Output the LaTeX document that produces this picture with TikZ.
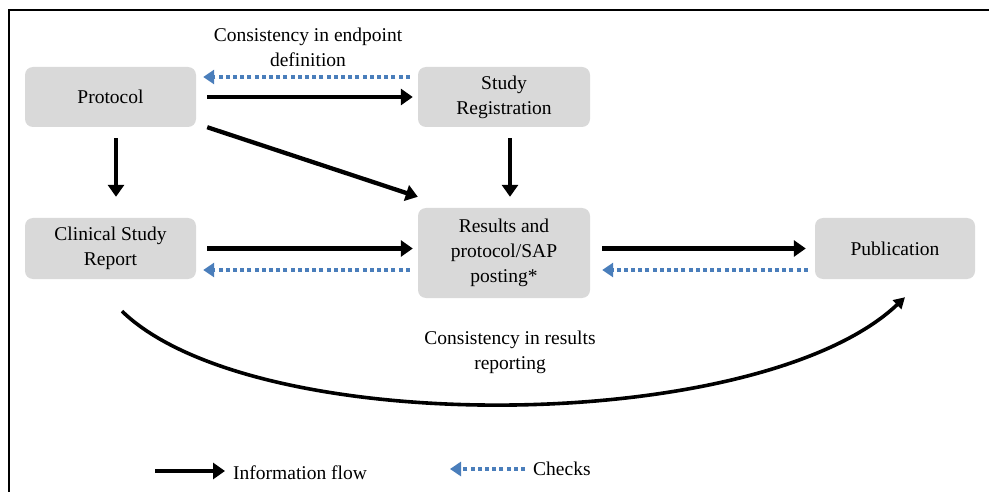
\documentclass[tikz,border=0pt]{standalone}
\usepackage{fontspec}
\setmainfont{Liberation Serif}
\usetikzlibrary{arrows.meta,calc}
\definecolor{boxgray}{HTML}{D9D9D9}
\definecolor{checkblue}{HTML}{4A7EBB}
\tikzset{
  box/.style={draw=none,fill=boxgray,rounded corners=8pt,inner sep=0pt,align=center,
    font=\fontsize{19.5}{25}\selectfont},
  lbl/.style={inner sep=0pt,align=center,font=\fontsize{19.5}{25}\selectfont},
  flow/.style={line width=4.3pt,-{Triangle[length=12pt,width=16pt]}},
  check/.style={checkblue,line width=4.5pt,dash pattern=on 4pt off 3.2pt,-{Triangle[length=11pt,width=14pt]}},
  curvearrow/.style={line width=3.6pt,-{Triangle[length=11pt,width=12pt]}}
}
\begin{document}
\begin{tikzpicture}[x=1pt,y=-1pt]
\useasboundingbox (0,0) rectangle (989,492);
\fill[white] (0,0) rectangle (989,492);
\draw[line width=2pt] (9,492) -- (9,10) -- (989,10);

\node[box,minimum width=171pt,minimum height=60pt] (proto) at (110.5,97) {Protocol};
\node[box,minimum width=172pt,minimum height=60pt] (reg) at (504,97) {Study\\Registration};
\node[box,minimum width=171pt,minimum height=61pt] (csr) at (110.5,248.5) {Clinical Study\\Report};
\node[box,minimum width=172pt,minimum height=90pt] (res) at (504,253) {Results and\\protocol/SAP\\posting*};
\node[box,minimum width=160pt,minimum height=61pt] (pub) at (895,248.5) {Publication};

\node[lbl] (endpt) at (308,47.5) {Consistency in endpoint\\definition};
\node[lbl] (resrep) at (510,352) {Consistency in results\\reporting};

% top row
\draw[flow] ($(proto.east)+(11,0)$) -- ($(proto.east -| reg.west)+(-5,0)$);
\draw[check] ($(reg.west)+(-8,-20)$) -- ($(proto.east)+(7,-20)$);
% verticals
\draw[flow] ($(proto.south)+(5.5,11)$) -- ($(csr.north)+(5.5,-21)$);
\draw[flow] ($(reg.south)+(6,11)$) -- ($(res.north)+(6,-11)$);
% diagonal
\draw[flow] ($(proto.south east)+(11,0)$) -- ($(res.north west)+(0,-11)$);
% middle row
\draw[flow] ($(csr.east)+(11,0)$) -- ($(csr.east -| res.west)+(-5,0)$);
\draw[check] ($(csr.east -| res.west)+(-8,21.5)$) -- ($(csr.east)+(7,21.5)$);
\draw[flow] ($(pub.west -| res.east)+(12,0)$) -- ($(pub.west)+(-9,0)$);
\draw[check] ($(pub.west)+(-7,21.5)$) -- ($(pub.west -| res.east)+(12,21.5)$);
% curve
\draw[curvearrow] ($(csr.south)+(11.5,32)$) .. controls (255,440) and (760,435) .. ($(pub.south)+(10,18)$);

% legend
\coordinate (lf1) at (155,471);
\coordinate (lf2) at (225,471);
\node[lbl,anchor=west] (lflow) at (233,473) {Information flow};
\coordinate (lc1) at (525,469);
\coordinate (lc2) at (450,469);
\node[lbl,anchor=west] (lcheck) at (533,469) {Checks};
\draw[flow] (lf1) -- (lf2);
\draw[check] (lc1) -- (lc2);
\end{tikzpicture}
\end{document}
